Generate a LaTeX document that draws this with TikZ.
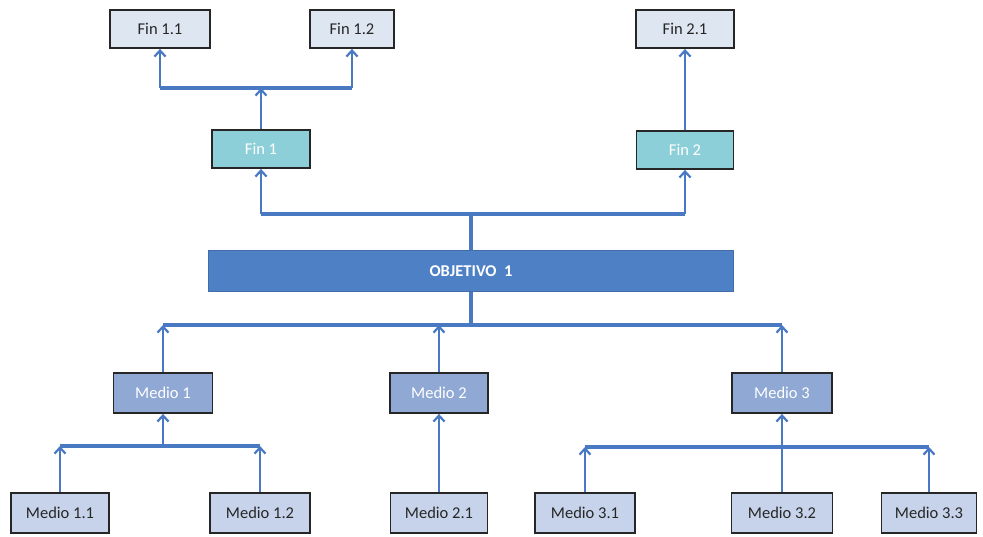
\documentclass[tikz,border=0pt]{standalone}
\usepackage{fontspec}
\setmainfont{Carlito}
\usetikzlibrary{arrows.meta}
\definecolor{leafc}{HTML}{DDE6F1}
\definecolor{fincc}{HTML}{8DCFD8}
\definecolor{objc}{HTML}{4E80C6}
\definecolor{midc}{HTML}{8FA8D4}
\definecolor{mleafc}{HTML}{C6D3EA}
\definecolor{linec}{HTML}{4A79C3}
\begin{document}
\begin{tikzpicture}[x=1pt,y=-1pt,
  box/.style={draw=black!85,line width=1.8pt,minimum height=38pt,inner sep=0pt,font=\fontsize{16.5}{18}\selectfont},
  leaf/.style={box,fill=leafc,text=black!85},
  finmid/.style={box,fill=fincc,text=white},
  mid/.style={box,fill=midc,text=white,minimum height=40pt},
  mleaf/.style={box,fill=mleafc,text=black!85,minimum height=40pt},
  obj/.style={fill=objc,draw=objc!85!black,line width=0.8pt,text=white,inner sep=0pt,font=\fontsize{16.5}{18}\selectfont\bfseries},
  conn/.style={draw=linec,line width=3.2pt},
  arr/.style={conn,line width=2.8pt,-{Straight Barb[length=6pt,width=11pt,line width=2.2pt]}}
]
\useasboundingbox (0,0) rectangle (983,536);
% nodes
\node[leaf,minimum width=100pt] (f11) at (160,29) {Fin 1.1};
\node[leaf,minimum width=84pt] (f12) at (352,29) {Fin 1.2};
\node[leaf,minimum width=98pt] (f21) at (685,29) {Fin 2.1};
\node[finmid,minimum width=98pt] (f1) at (261,149) {Fin 1};
\node[finmid,minimum width=97pt] (f2) at (685,150) {Fin 2};
\node[obj,minimum width=525pt,minimum height=41pt] (obj) at (471,271) {OBJETIVO\ \ 1};
\node[mid,minimum width=99pt] (m1) at (163,393) {Medio 1};
\node[mid,minimum width=98pt] (m2) at (439,393) {Medio 2};
\node[mid,minimum width=100pt] (m3) at (782,393) {Medio 3};
\node[mleaf,minimum width=98pt] (m11) at (60,513) {Medio 1.1};
\node[mleaf,minimum width=100pt] (m12) at (260,513) {Medio 1.2};
\node[mleaf,minimum width=97pt] (m21) at (439,513) {Medio 2.1};
\node[mleaf,minimum width=100pt] (m31) at (585,513) {Medio 3.1};
\node[mleaf,minimum width=101pt] (m32) at (782,513) {Medio 3.2};
\node[mleaf,minimum width=95pt] (m33) at (929,513) {Medio 3.3};
% bar coordinates
\coordinate (b1) at (261,88);
\coordinate (b2) at (471,214);
\coordinate (b3) at (471,325);
\coordinate (b4) at (163,446);
\coordinate (b5) at (782,447);
% Fin 1 -> Fin 1.1, Fin 1.2
\draw[conn] (b1 -| f11) -- (b1 -| f12);
\draw[arr] (f1.north) -- (b1);
\draw[arr] (b1 -| f11) -- (f11.south);
\draw[arr] (b1 -| f12) -- (f12.south);
% Fin 2 -> Fin 2.1
\draw[arr] (f2.north) -- (f21.south);
% Objetivo -> Fin 1, Fin 2
\draw[conn] (obj.north) -- (b2);
\draw[conn] (b2 -| f1) -- (b2 -| f2);
\draw[arr] (b2 -| f1) -- (f1.south);
\draw[arr] (b2 -| f2) -- (f2.south);
% Medios -> Objetivo
\draw[conn] (obj.south) -- (b3);
\draw[conn] (b3 -| m1) -- (b3 -| m3);
\draw[arr] (m1.north) -- (b3 -| m1);
\draw[arr] (m2.north) -- (b3 -| m2);
\draw[arr] (m3.north) -- (b3 -| m3);
% Medio 1.x -> Medio 1
\draw[conn] (b4 -| m11) -- (b4 -| m12);
\draw[arr] (m11.north) -- (b4 -| m11);
\draw[arr] (m12.north) -- (b4 -| m12);
\draw[arr] (b4) -- (m1.south);
% Medio 2.1 -> Medio 2
\draw[arr] (m21.north) -- (m2.south);
% Medio 3.x -> Medio 3
\draw[conn] (b5 -| m31) -- (b5 -| m33);
\draw[arr] (m31.north) -- (b5 -| m31);
\draw[arr] (m33.north) -- (b5 -| m33);
\draw[arr] (m32.north) -- (m3.south);
\end{tikzpicture}
\end{document}
